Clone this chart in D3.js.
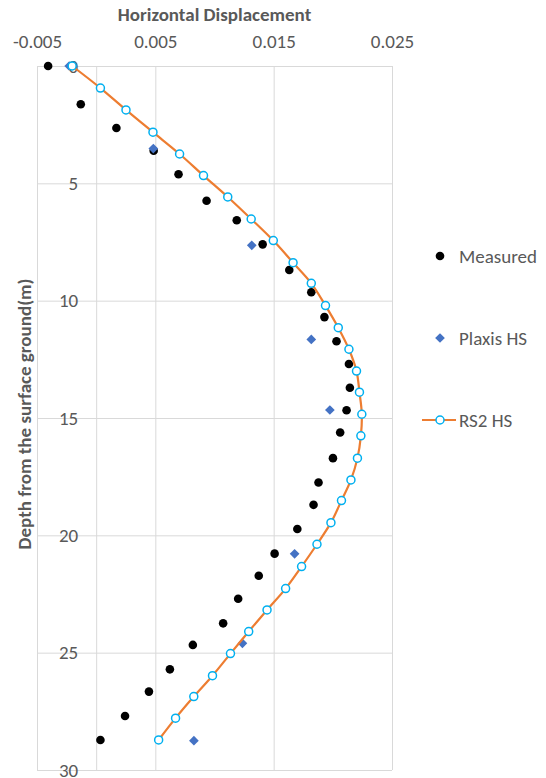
<!DOCTYPE html>
<html>
<head>
<meta charset="utf-8">
<script src="https://cdn.jsdelivr.net/npm/d3@7"></script>
<style>
	body { margin: 0; background: #fff; }
	svg text { font-family: Carlito, Calibri, "Liberation Sans", Arial, sans-serif; fill: #595959; }
</style>
</head>
<body>
<div id="wrapper"></div>
<script>
// Data (depth in m, displacement in m)

const measuredDepth = [0, 1.63, 2.64, 3.61, 4.61, 5.74, 6.57, 7.6, 8.69, 9.64, 10.7, 11.73, 12.7, 13.71, 14.67, 15.62, 16.71, 17.75, 18.7, 19.73, 20.78, 21.72, 22.7, 23.75, 24.67, 25.71, 26.66, 27.7, 28.72];
const measuredDisp = [-0.00406, -0.0013, 0.00171, 0.00486, 0.00696, 0.00933, 0.01188, 0.01407, 0.01632, 0.01818, 0.01929, 0.02031, 0.02136, 0.02144, 0.02116, 0.02062, 0.02001, 0.01879, 0.01837, 0.017, 0.01508, 0.01374, 0.012, 0.01073, 0.00817, 0.00623, 0.00446, 0.00244, 0.00036];

const plaxisDepth = [0, 3.52, 7.64, 11.65, 14.66, 20.79, 24.6, 28.75];
const plaxisDisp = [-0.00228, 0.00483, 0.01315, 0.01818, 0.01975, 0.01677, 0.01236, 0.00826];

const rs2Depth = [0, 0.94, 1.87, 2.82, 3.75, 4.67, 5.58, 6.52, 7.44, 8.38, 9.26, 10.21, 11.15, 12.07, 13.0, 13.9, 14.84, 15.76, 16.71, 17.64, 18.52, 19.46, 20.38, 21.33, 22.27, 23.18, 24.1, 25.04, 25.98, 26.87, 27.79, 28.72];
const rs2Disp = [-0.00203, 0.00036, 0.00252, 0.0048, 0.00705, 0.00907, 0.01112, 0.0131, 0.01497, 0.01664, 0.01818, 0.01938, 0.02046, 0.02136, 0.022, 0.02225, 0.02245, 0.02237, 0.02208, 0.02153, 0.02073, 0.01984, 0.01866, 0.01736, 0.01601, 0.01444, 0.01289, 0.01135, 0.00983, 0.00825, 0.00671, 0.00528];

const xTicks = [-0.005, 0.005, 0.015, 0.025];
const yTicks = [0, 5, 10, 15, 20, 25, 30];
const seriesNames = ["Measured", "Plaxis HS", "RS2 HS"];

const xTitle = "Horizontal Displacement";
const yTitle = "Depth from the surface ground(m)";

// dimensions

const width = 546, height = 778;
const plot = { left: 37, right: 392, top: 66, bottom: 770 };

const svg = d3.select("#wrapper")
	.append("svg")
	.attr("width", width)
	.attr("height", height);

// scales

const xScale = d3.scaleLinear().domain([-0.005, 0.025]).range([plot.left, plot.right]);
const yScale = d3.scaleLinear().domain([0, 30]).range([plot.top, plot.bottom]);

const gridColor = "#d9d9d9";
const tickFont = "19px";

// gridlines

svg.append("g")
	.attr("transform", `translate(0,${plot.top})`)
	.call(d3.axisBottom(xScale).tickValues(xTicks).tickSize(plot.bottom - plot.top).tickFormat(""))
	.call(g => g.select(".domain").remove())
	.call(g => g.selectAll("line").attr("stroke", gridColor));

svg.append("g")
	.attr("transform", `translate(${plot.left},0)`)
	.call(d3.axisRight(yScale).tickValues(yTicks).tickSize(plot.right - plot.left).tickFormat(""))
	.call(g => g.select(".domain").remove())
	.call(g => g.selectAll("line").attr("stroke", gridColor));

// x axis at the top

svg.append("g")
	.attr("transform", `translate(0,${plot.top})`)
	.call(d3.axisTop(xScale).tickValues(xTicks).tickSize(0).tickPadding(18).tickFormat(d => d.toFixed(3)))
	.call(g => g.select(".domain").attr("stroke", gridColor))
	.call(g => g.selectAll("text").style("font-size", tickFont).attr("fill", "#595959"));

// y axis crossing at x = 0

svg.append("g")
	.attr("transform", `translate(${xScale(0)},0)`)
	.call(d3.axisLeft(yScale).tickValues(yTicks).tickSize(0).tickPadding(18))
	.call(g => g.select(".domain").attr("stroke", gridColor))
	.call(g => g.selectAll("text").style("font-size", tickFont).attr("fill", "#595959"));

// titles

svg.append("text")
	.attr("x", (plot.left + plot.right) / 2)
	.attr("y", 21)
	.attr("text-anchor", "middle")
	.style("font-size", "19px")
	.style("font-weight", "bold")
	.text(xTitle);

svg.append("text")
	.attr("transform", `translate(31,${(plot.top + plot.bottom) / 2 - 4}) rotate(-90)`)
	.attr("text-anchor", "middle")
	.style("font-size", "19px")
	.style("font-weight", "bold")
	.text(yTitle);

// series

const measured = measuredDepth.map((d, i) => ({ depth: d, disp: measuredDisp[i] }));
const plaxis = plaxisDepth.map((d, i) => ({ depth: d, disp: plaxisDisp[i] }));
const rs2 = rs2Depth.map((d, i) => ({ depth: d, disp: rs2Disp[i] }));

svg.append("g")
	.selectAll("circle")
	.data(measured)
	.join("circle")
	.attr("cx", d => xScale(d.disp))
	.attr("cy", d => yScale(d.depth))
	.attr("r", 4.3)
	.attr("fill", "#000");

const diamond = d3.symbol().type(d3.symbolDiamond2).size(60);

svg.append("g")
	.selectAll("path")
	.data(plaxis)
	.join("path")
	.attr("d", diamond)
	.attr("transform", d => `translate(${xScale(d.disp)},${yScale(d.depth)})`)
	.attr("fill", "#4472c4");

const line = d3.line()
	.x(d => xScale(d.disp))
	.y(d => yScale(d.depth))
	.curve(d3.curveCatmullRom);

svg.append("path")
	.datum(rs2)
	.attr("d", line)
	.attr("fill", "none")
	.attr("stroke", "#ed7d31")
	.attr("stroke-width", 2.2);

svg.append("g")
	.selectAll("circle")
	.data(rs2)
	.join("circle")
	.attr("cx", d => xScale(d.disp))
	.attr("cy", d => yScale(d.depth))
	.attr("r", 4)
	.attr("fill", "#fff")
	.attr("stroke", "#00b0f0")
	.attr("stroke-width", 1.5);

// legend

const legendY = [256, 338, 420];
const legend = svg.append("g");
const markX = 440, textX = 459;

legend.append("circle")
	.attr("cx", markX).attr("cy", legendY[0]).attr("r", 4.3).attr("fill", "#000");

legend.append("path")
	.attr("d", diamond)
	.attr("transform", `translate(${markX},${legendY[1]})`)
	.attr("fill", "#4472c4");

legend.append("line")
	.attr("x1", 422).attr("x2", 456)
	.attr("y1", legendY[2]).attr("y2", legendY[2])
	.attr("stroke", "#ed7d31").attr("stroke-width", 2.2);

legend.append("circle")
	.attr("cx", markX).attr("cy", legendY[2]).attr("r", 4)
	.attr("fill", "#fff").attr("stroke", "#00b0f0").attr("stroke-width", 1.5);

legend.selectAll("text")
	.data(seriesNames)
	.join("text")
	.attr("x", textX)
	.attr("y", (d, i) => legendY[i])
	.attr("dy", "0.35em")
	.style("font-size", "19px")
	.text(d => d);
</script>
</body>
</html>
